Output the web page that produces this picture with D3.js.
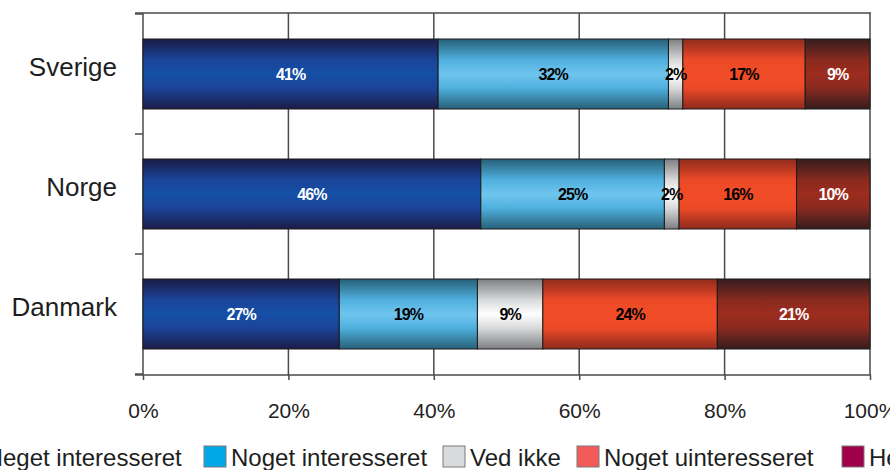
<!DOCTYPE html>
<html>
<head>
<meta charset="utf-8">
<script src="https://cdn.jsdelivr.net/npm/d3@7"></script>
<style>
  html, body { margin: 0; padding: 0; background: #fff; overflow: hidden; }
  svg { display: block; font-family: Arial, "Liberation Sans", sans-serif; }
</style>
</head>
<body>
<svg id="chart" width="890" height="470"></svg>
<script>
// Interest by country, answers in percent
const countries = ["Sverige", "Norge", "Danmark"];
const answers = ["Meget interesseret", "Noget interesseret", "Ved ikke", "Noget uinteresseret", "Helt uinteresseret"];
const meget       = [41, 46, 27];
const noget       = [32, 25, 19];
const vedIkke     = [2, 2, 9];
const nogetUinter = [17, 16, 24];
const heltUinter  = [9, 10, 21];
const xTicks = [0, 0.2, 0.4, 0.6, 0.8, 1];

const seriesValues = [meget, noget, vedIkke, nogetUinter, heltUinter];
const rows = countries.map((c, i) => {
  const r = { country: c };
  answers.forEach((a, j) => r[a] = seriesValues[j][i]);
  return r;
});

// Bar shading: dark edges, bright middle
const shades = [
  { edge: "#1a1c45", mid1: "#1b449a", mid: "#144fa6" },
  { edge: "#286078", mid1: "#4fb0de", mid: "#6fc5ee" },
  { edge: "#7e7f82", mid1: "#d8d9da", mid: "#ffffff" },
  { edge: "#8f2a1e", mid1: "#ec4a27", mid: "#f14c27" },
  { edge: "#341c1f", mid1: "#8a2a1e", mid: "#9c2c1e" }
];
const legendColors = ["#1f3c8c", "#00a8e8", "#d9dadb", "#f25a5a", "#a0004a"];
const labelColors = ["#fff", "#000", "#000", "#000", "#fff"];

const svg = d3.select("#chart");
const plotLeft = 143, plotRight = 870, plotTop = 13, plotBottom = 375;

const x = d3.scaleLinear().domain([0, 1]).range([plotLeft, plotRight]);
const y = d3.scaleBand().domain(countries).range([14, 374])
  .paddingInner(50 / 120).paddingOuter(25 / 120);

const defs = svg.append("defs");
shades.forEach((s, i) => {
  const g = defs.append("linearGradient").attr("id", "grad" + i)
    .attr("x1", 0).attr("y1", 0).attr("x2", 0).attr("y2", 1);
  [[0, s.edge], [0.3, s.mid1], [0.5, s.mid], [0.7, s.mid1], [1, s.edge]]
    .forEach(([o, c]) => g.append("stop").attr("offset", o).attr("stop-color", c));
});

const lineColor = "#4a4a4a";

// Frame top and gridlines
svg.append("line").attr("x1", 135).attr("x2", plotRight + 1).attr("y1", plotTop).attr("y2", plotTop)
  .attr("stroke", lineColor).attr("stroke-width", 1.5);
svg.append("g").selectAll("line").data(xTicks).join("line")
  .attr("x1", d => x(d)).attr("x2", d => x(d))
  .attr("y1", plotTop).attr("y2", plotBottom)
  .attr("stroke", lineColor).attr("stroke-width", 1.5);

// Category separators on the left axis
const step = y.step();
const bounds = d3.range(countries.length + 1).map(i => y.range()[0] + i * step);
svg.append("g").selectAll("line").data(bounds).join("line")
  .attr("x1", 135).attr("x2", plotLeft).attr("y1", d => d).attr("y2", d => d)
  .attr("stroke", lineColor).attr("stroke-width", 1.5);

// Stacked bars (normalised to 100%)
const stack = d3.stack().keys(answers).offset(d3.stackOffsetExpand);
const layers = stack(rows);

const layerG = svg.append("g").selectAll("g").data(layers).join("g")
  .attr("fill", (d, i) => `url(#grad${i})`);
layerG.selectAll("rect").data(d => d).join("rect")
  .attr("x", d => x(d[0]))
  .attr("y", d => y(d.data.country))
  .attr("width", d => x(d[1]) - x(d[0]))
  .attr("height", y.bandwidth())
  .attr("stroke", "#1a1a1a").attr("stroke-width", 1);

// Value labels
layers.forEach((layer, i) => {
  svg.append("g").selectAll("text").data(layer).join("text")
    .attr("x", d => (x(d[0]) + x(d[1])) / 2)
    .attr("y", d => y(d.data.country) + y.bandwidth() / 2)
    .attr("dy", "0.36em")
    .attr("text-anchor", "middle")
    .attr("font-size", 16).attr("font-weight", "bold")
    .attr("letter-spacing", "-0.9px")
    .attr("fill", labelColors[i])
    .text(d => d.data[layer.key] + "%");
});

// Bottom axis
const xAxis = d3.axisBottom(x).tickValues(xTicks).tickFormat(d3.format(".0%"))
  .tickSize(5).tickSizeOuter(0).tickPadding(23);
const axG = svg.append("g").attr("transform", `translate(0,${plotBottom})`).call(xAxis);
axG.select(".domain").attr("stroke", lineColor).attr("stroke-width", 1.5)
  .attr("d", `M135,0H${plotRight + 1}`);
axG.selectAll(".tick line").attr("stroke", lineColor).attr("stroke-width", 1.5);
axG.selectAll(".tick text").attr("font-size", 21).attr("fill", "#222")
  .attr("font-family", "Arial, 'Liberation Sans', sans-serif");

// Country names
svg.append("g").selectAll("text").data(countries).join("text")
  .attr("x", 117)
  .attr("y", d => y(d) + y.bandwidth() / 2 + 2)
  .attr("text-anchor", "end")
  .attr("font-size", 26).attr("fill", "#1e1e1e")
  .text(d => d);

// Legend
const legendX = [-44, 204, 443, 577, 842];
const lg = svg.append("g").selectAll("g").data(answers).join("g")
  .attr("transform", (d, i) => `translate(${legendX[i]},446)`);
lg.append("rect").attr("width", 22).attr("height", 21)
  .attr("fill", (d, i) => legendColors[i]).attr("stroke", "#7a7a7a").attr("stroke-width", 1);
lg.append("text").attr("x", 27).attr("y", 20)
  .attr("font-size", 24).attr("fill", "#1e1e1e")
  .text(d => d);
</script>
</body>
</html>
